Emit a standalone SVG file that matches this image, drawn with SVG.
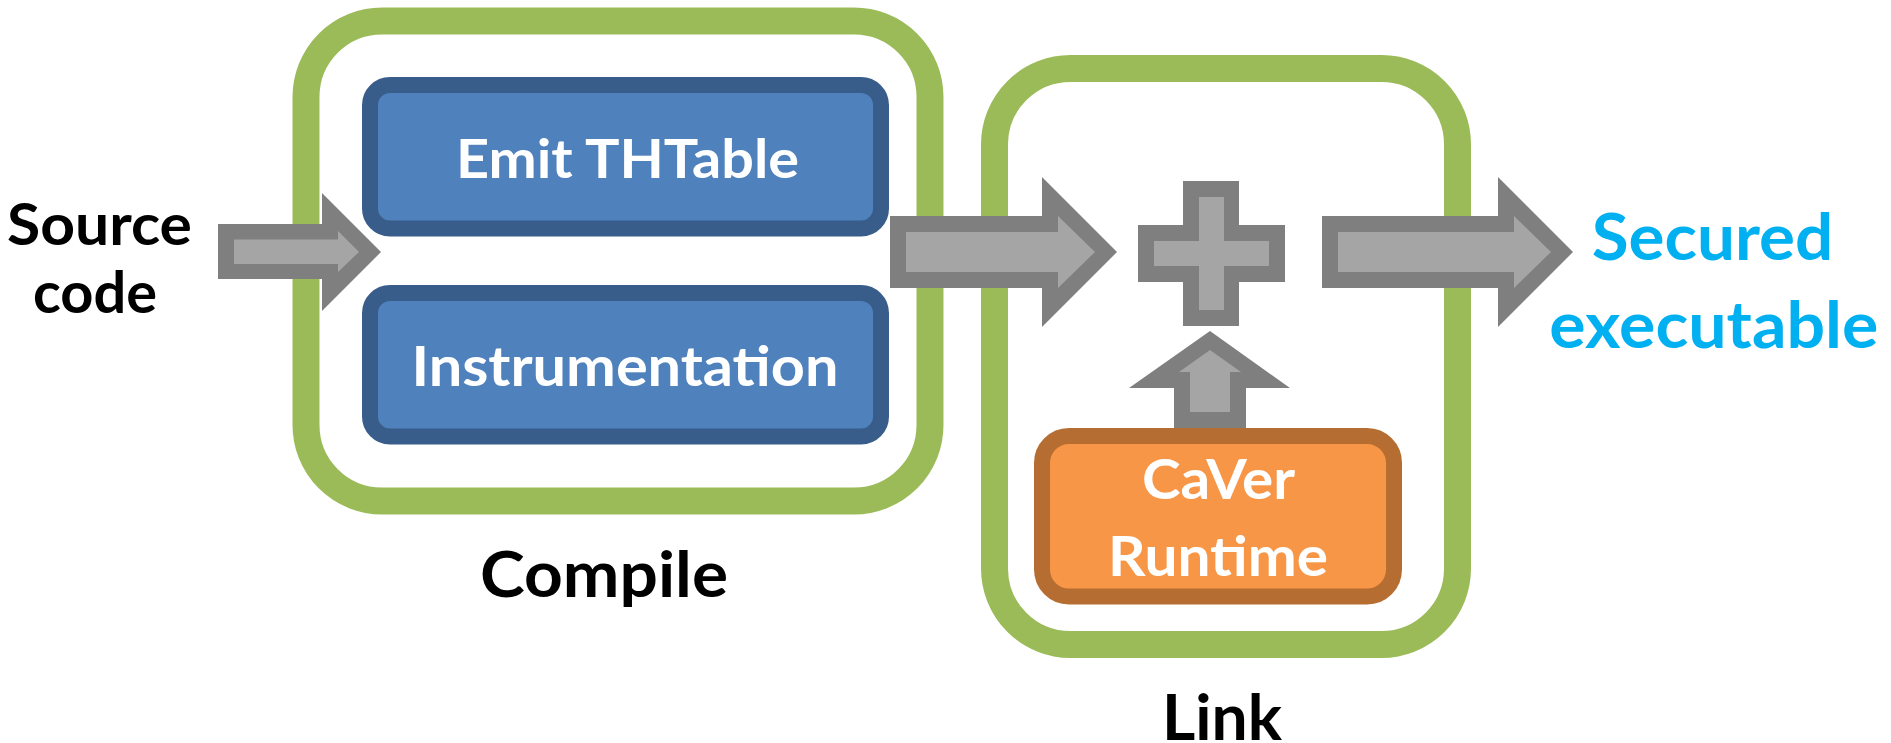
<svg xmlns="http://www.w3.org/2000/svg" width="1891" height="743" viewBox="0 0 1891 743">
  <style>
    .stage { fill: #FFFFFF; stroke: #9BBB59; stroke-width: 27; }
    .step { fill: #4F81BD; stroke: #385D8A; stroke-width: 16; }
    .runtime { fill: #F79646; stroke: #B66D31; stroke-width: 16; }
    .edge { fill: #7F7F7F; }
    .core { fill: #A5A5A5; }
    text { font-family: Lato, "Liberation Sans", Arial, sans-serif; font-weight: 700; text-anchor: middle; }
    .label { fill: #000000; }
    .inbox { fill: #FFFFFF; }
    .result { fill: #00B0F0; }
  </style>

  <rect width="1891" height="743" fill="#FFFFFF"/>

  <!-- Compile stage -->
  <g id="compile">
    <rect class="stage" x="306" y="21" width="624" height="480" rx="76" ry="76"/>
    <text class="label" x="604" y="597" font-size="64" textLength="248" lengthAdjust="spacingAndGlyphs">Compile</text>
  </g>

  <!-- Link stage -->
  <g id="link">
    <rect class="stage" x="994.5" y="68.5" width="463" height="576" rx="76" ry="76"/>
    <text class="label" x="1222" y="740" font-size="64" textLength="120" lengthAdjust="spacingAndGlyphs">Link</text>
  </g>

  <g id="source">
    <text class="label" x="99.5" y="245" font-size="57" textLength="185" lengthAdjust="spacingAndGlyphs">Source</text>
    <text class="label" x="95" y="313" font-size="57" textLength="124" lengthAdjust="spacingAndGlyphs">code</text>
  </g>

  <g id="emit-thtable">
    <rect class="step" x="370" y="85" width="511" height="143.5" rx="20" ry="20"/>
    <text class="inbox" x="627.5" y="177.5" font-size="54" textLength="343" lengthAdjust="spacingAndGlyphs">Emit THTable</text>
  </g>

  <g id="instrumentation">
    <rect class="step" x="370" y="293" width="511" height="143.5" rx="20" ry="20"/>
    <text class="inbox" x="625" y="385.7" font-size="55" textLength="427" lengthAdjust="spacingAndGlyphs">Instrumentation</text>
  </g>

  <g id="caver-runtime">
    <rect class="runtime" x="1042" y="436" width="352" height="160.5" rx="27" ry="27"/>
    <text class="inbox" x="1218.5" y="499" font-size="55" textLength="153" lengthAdjust="spacingAndGlyphs">CaVer</text>
    <text class="inbox" x="1218" y="576" font-size="55" textLength="220" lengthAdjust="spacingAndGlyphs">Runtime</text>
  </g>

  <!-- merge symbol -->
  <g id="merge">
    <polygon class="edge" points="1183,181 1239,181 1239,225 1285,225 1285,282 1239,282 1239,326 1183,326 1183,282 1138,282 1138,225 1183,225"/>
    <polygon class="core" points="1199,197 1224,197 1224,241 1269,241 1269,266 1224,266 1224,310 1199,310 1199,266 1154,266 1154,241 1199,241"/>
  </g>

  <g id="secured-executable">
    <text class="result" x="1712.5" y="260" font-size="65" textLength="241.6" lengthAdjust="spacingAndGlyphs">Secured</text>
    <text class="result" x="1713.8" y="348" font-size="65" textLength="329" lengthAdjust="spacingAndGlyphs">executable</text>
  </g>

  <!-- block arrows -->
  <g id="connectors">
    <g id="source-to-compile">
      <polygon class="edge" points="218,224 322,224 322,193 381,252 322,311 322,279 218,279"/>
      <polygon class="core" points="234,239.5 338,239.5 338,231 359,252 338,272 338,264 234,264"/>
    </g>
    <g id="compile-to-merge">
      <polygon class="edge" points="890,216 1042,216 1042,177 1117,252 1042,327 1042,288 890,288"/>
      <polygon class="core" points="906,232 1058,232 1058,216 1095,252 1058,288 1058,272 906,272"/>
    </g>
    <g id="merge-to-output">
      <polygon class="edge" points="1322,216 1498,216 1498,177 1573,252 1498,327 1498,288 1322,288"/>
      <polygon class="core" points="1338,232 1514,232 1514,216 1551,252 1514,288 1514,272 1338,272"/>
    </g>
    <g id="runtime-to-merge">
      <polygon class="edge" points="1210,331 1290,388 1246,388 1246,428 1174,428 1174,388 1129,388"/>
      <polygon class="core" points="1210,350 1241,372 1230,372 1230,412 1190,412 1190,372 1179,372"/>
    </g>
  </g>
</svg>
